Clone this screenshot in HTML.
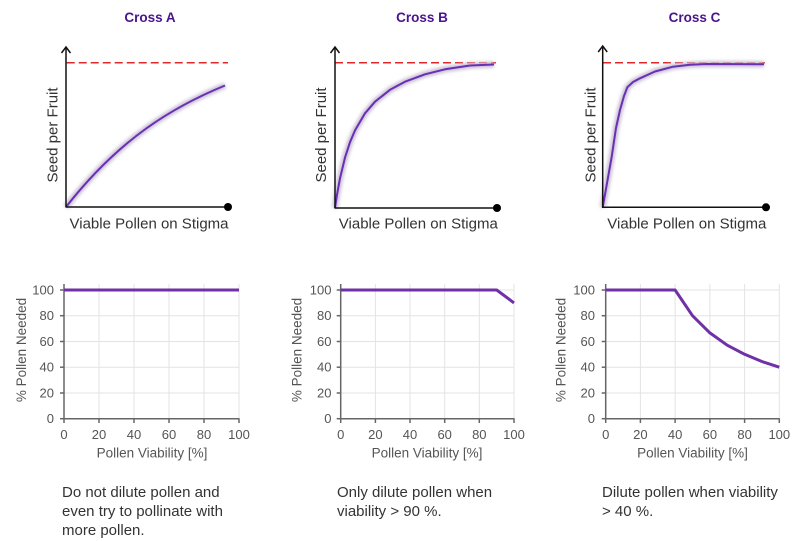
<!DOCTYPE html>
<html>
<head>
<meta charset="utf-8">
<style>
html,body{margin:0;padding:0;background:#fff;}
body{width:800px;height:541px;position:relative;overflow:hidden;font-family:"Liberation Sans",Arial,sans-serif;}
.note{position:absolute;font-size:15px;line-height:19px;color:#333;white-space:nowrap;}
</style>
</head>
<body>
<svg width="800" height="541" viewBox="0 0 800 541" xmlns="http://www.w3.org/2000/svg" style="position:absolute;left:0;top:0;font-family:'Liberation Sans',Arial,sans-serif;">
  <defs>
    <filter id="glow" x="-10%" y="-10%" width="120%" height="120%">
      <feGaussianBlur stdDeviation="1.5"/>
    </filter>
  </defs>

  <!-- Titles -->
  <g font-size="13.5" font-weight="bold" fill="#4a148c" text-anchor="middle">
    <text x="150" y="22">Cross A</text>
    <text x="422" y="22">Cross B</text>
    <text x="694.5" y="22">Cross C</text>
  </g>

  <!-- ===== Top chart A ===== -->
  <line x1="66.7" y1="62.7" x2="228" y2="62.7" stroke="#e02828" stroke-width="1.5" stroke-dasharray="8,4"/>
  <path d="M66,207 C119,139.2 172,107.3 225,85.5" fill="none" stroke="#c8c0d4" stroke-width="6" filter="url(#glow)"/>
  <path d="M66,207 C119,139.2 172,107.3 225,85.5" fill="none" stroke="#6a2fb4" stroke-width="2"/>
  <line x1="66" y1="47" x2="66" y2="207.5" stroke="#111" stroke-width="1.5"/>
  <polyline points="61.5,53 66,47 70.5,53" fill="none" stroke="#111" stroke-width="1.5"/>
  <line x1="66" y1="207" x2="228" y2="207" stroke="#111" stroke-width="1.5"/>
  <circle cx="228" cy="207" r="4" fill="#000"/>
  <text x="149" y="228.5" font-size="15" fill="#333" text-anchor="middle">Viable Pollen on Stigma</text>
  <text transform="translate(57.5,135) rotate(-90)" font-size="15" fill="#333" text-anchor="middle">Seed per Fruit</text>

  <!-- ===== Top chart B ===== -->
  <line x1="335" y1="62.7" x2="496" y2="62.7" stroke="#e02828" stroke-width="1.5" stroke-dasharray="8,4"/>
  <polyline points="335,208 337,194.7 340,178.3 345,157.6 350,142.2 355,130.4 365,113.3 375,101.7 390,89.8 405,81.7 425,74.3 445,69.3 470,65.5 494,64.5" fill="none" stroke="#c8c0d4" stroke-width="6" filter="url(#glow)"/>
  <polyline points="335,208 337,194.7 340,178.3 345,157.6 350,142.2 355,130.4 365,113.3 375,101.7 390,89.8 405,81.7 425,74.3 445,69.3 470,65.5 494,64.5" fill="none" stroke="#6a2fb4" stroke-width="2" stroke-linejoin="round"/>
  <line x1="335" y1="47" x2="335" y2="208.5" stroke="#111" stroke-width="1.5"/>
  <polyline points="330.5,53 335,47 339.5,53" fill="none" stroke="#111" stroke-width="1.5"/>
  <line x1="335" y1="208" x2="497" y2="208" stroke="#111" stroke-width="1.5"/>
  <circle cx="497" cy="208" r="4" fill="#000"/>
  <text x="418.3" y="228.5" font-size="15" fill="#333" text-anchor="middle">Viable Pollen on Stigma</text>
  <text transform="translate(326,135) rotate(-90)" font-size="15" fill="#333" text-anchor="middle">Seed per Fruit</text>

  <!-- ===== Top chart C ===== -->
  <line x1="603" y1="62.7" x2="765" y2="62.7" stroke="#e02828" stroke-width="1.5" stroke-dasharray="8,4"/>
  <polyline points="602.7,207.3 606,188.8 611.7,156.7 616,128 620,110 624,96 627.3,87.3 633,82 640,78.3 655,71.5 673,66.7 690,64.8 707,64 764,64.3" fill="none" stroke="#c8c0d4" stroke-width="6" filter="url(#glow)"/>
  <polyline points="602.7,207.3 606,188.8 611.7,156.7 616,128 620,110 624,96 627.3,87.3 633,82 640,78.3 655,71.5 673,66.7 690,64.8 707,64 764,64.3" fill="none" stroke="#6a2fb4" stroke-width="2" stroke-linejoin="round"/>
  <line x1="602.7" y1="46" x2="602.7" y2="208" stroke="#111" stroke-width="1.5"/>
  <polyline points="598.2,52 602.7,46 607.2,52" fill="none" stroke="#111" stroke-width="1.5"/>
  <line x1="602.7" y1="207.3" x2="766" y2="207.3" stroke="#111" stroke-width="1.5"/>
  <circle cx="766" cy="207.3" r="4" fill="#000"/>
  <text x="686.8" y="228.5" font-size="15" fill="#333" text-anchor="middle">Viable Pollen on Stigma</text>
  <text transform="translate(595.5,135) rotate(-90)" font-size="15" fill="#333" text-anchor="middle">Seed per Fruit</text>

  <!-- ===== Bottom chart A ===== -->
  <g stroke="#e3e3e3" stroke-width="1">
    <line x1="99" y1="284" x2="99" y2="418.7"/>
    <line x1="134" y1="284" x2="134" y2="418.7"/>
    <line x1="169" y1="284" x2="169" y2="418.7"/>
    <line x1="204" y1="284" x2="204" y2="418.7"/>
    <line x1="239" y1="284" x2="239" y2="418.7"/>
    <line x1="64" y1="393" x2="239" y2="393"/>
    <line x1="64" y1="367.2" x2="239" y2="367.2"/>
    <line x1="64" y1="341.5" x2="239" y2="341.5"/>
    <line x1="64" y1="315.7" x2="239" y2="315.7"/>
    <line x1="64" y1="290" x2="239" y2="290"/>
  </g>
  <g stroke="#666" stroke-width="1.5">
    <line x1="64" y1="284" x2="64" y2="419.5"/>
    <line x1="63.3" y1="418.7" x2="239.5" y2="418.7"/>
    <line x1="60" y1="290" x2="64" y2="290"/>
    <line x1="60" y1="315.7" x2="64" y2="315.7"/>
    <line x1="60" y1="341.5" x2="64" y2="341.5"/>
    <line x1="60" y1="367.2" x2="64" y2="367.2"/>
    <line x1="60" y1="393" x2="64" y2="393"/>
    <line x1="60" y1="418.7" x2="64" y2="418.7"/>
    <line x1="64" y1="418.7" x2="64" y2="423"/>
    <line x1="99" y1="418.7" x2="99" y2="423"/>
    <line x1="134" y1="418.7" x2="134" y2="423"/>
    <line x1="169" y1="418.7" x2="169" y2="423"/>
    <line x1="204" y1="418.7" x2="204" y2="423"/>
    <line x1="239" y1="418.7" x2="239" y2="423"/>
  </g>
  <polyline points="64,290 239,290" fill="none" stroke="#7030a8" stroke-width="3"/>
  <g font-size="13" fill="#555" text-anchor="end">
    <text x="54" y="294.5">100</text>
    <text x="54" y="320.2">80</text>
    <text x="54" y="346">60</text>
    <text x="54" y="371.7">40</text>
    <text x="54" y="397.5">20</text>
    <text x="54" y="423.2">0</text>
  </g>
  <g font-size="13" fill="#555" text-anchor="middle">
    <text x="64" y="439">0</text>
    <text x="99" y="439">20</text>
    <text x="134" y="439">40</text>
    <text x="169" y="439">60</text>
    <text x="204" y="439">80</text>
    <text x="239" y="439">100</text>
  </g>
  <text x="152" y="457.5" font-size="13.5" fill="#555" text-anchor="middle">Pollen Viability [%]</text>
  <text transform="translate(26,350) rotate(-90)" font-size="13.5" fill="#555" text-anchor="middle">% Pollen Needed</text>

  <!-- ===== Bottom chart B ===== -->
  <g stroke="#e3e3e3" stroke-width="1">
    <line x1="375.4" y1="284" x2="375.4" y2="418.7"/>
    <line x1="410" y1="284" x2="410" y2="418.7"/>
    <line x1="444.7" y1="284" x2="444.7" y2="418.7"/>
    <line x1="479.3" y1="284" x2="479.3" y2="418.7"/>
    <line x1="514" y1="284" x2="514" y2="418.7"/>
    <line x1="340.7" y1="393" x2="514" y2="393"/>
    <line x1="340.7" y1="367.2" x2="514" y2="367.2"/>
    <line x1="340.7" y1="341.5" x2="514" y2="341.5"/>
    <line x1="340.7" y1="315.7" x2="514" y2="315.7"/>
    <line x1="340.7" y1="290" x2="514" y2="290"/>
  </g>
  <g stroke="#666" stroke-width="1.5">
    <line x1="340.7" y1="284" x2="340.7" y2="419.5"/>
    <line x1="340" y1="418.7" x2="514.5" y2="418.7"/>
    <line x1="336.7" y1="290" x2="340.7" y2="290"/>
    <line x1="336.7" y1="315.7" x2="340.7" y2="315.7"/>
    <line x1="336.7" y1="341.5" x2="340.7" y2="341.5"/>
    <line x1="336.7" y1="367.2" x2="340.7" y2="367.2"/>
    <line x1="336.7" y1="393" x2="340.7" y2="393"/>
    <line x1="336.7" y1="418.7" x2="340.7" y2="418.7"/>
    <line x1="340.7" y1="418.7" x2="340.7" y2="423"/>
    <line x1="375.4" y1="418.7" x2="375.4" y2="423"/>
    <line x1="410" y1="418.7" x2="410" y2="423"/>
    <line x1="444.7" y1="418.7" x2="444.7" y2="423"/>
    <line x1="479.3" y1="418.7" x2="479.3" y2="423"/>
    <line x1="514" y1="418.7" x2="514" y2="423"/>
  </g>
  <polyline points="340.7,290 496.7,290 514,302.9" fill="none" stroke="#7030a8" stroke-width="3" stroke-linejoin="round"/>
  <g font-size="13" fill="#555" text-anchor="end">
    <text x="331.5" y="294.5">100</text>
    <text x="331.5" y="320.2">80</text>
    <text x="331.5" y="346">60</text>
    <text x="331.5" y="371.7">40</text>
    <text x="331.5" y="397.5">20</text>
    <text x="331.5" y="423.2">0</text>
  </g>
  <g font-size="13" fill="#555" text-anchor="middle">
    <text x="340.7" y="439">0</text>
    <text x="375.4" y="439">20</text>
    <text x="410" y="439">40</text>
    <text x="444.7" y="439">60</text>
    <text x="479.3" y="439">80</text>
    <text x="514" y="439">100</text>
  </g>
  <text x="427" y="457.5" font-size="13.5" fill="#555" text-anchor="middle">Pollen Viability [%]</text>
  <text transform="translate(301.5,350) rotate(-90)" font-size="13.5" fill="#555" text-anchor="middle">% Pollen Needed</text>

  <!-- ===== Bottom chart C ===== -->
  <g stroke="#e3e3e3" stroke-width="1">
    <line x1="640.4" y1="284" x2="640.4" y2="418.7"/>
    <line x1="675.1" y1="284" x2="675.1" y2="418.7"/>
    <line x1="709.9" y1="284" x2="709.9" y2="418.7"/>
    <line x1="744.6" y1="284" x2="744.6" y2="418.7"/>
    <line x1="779.3" y1="284" x2="779.3" y2="418.7"/>
    <line x1="605.7" y1="393" x2="779.3" y2="393"/>
    <line x1="605.7" y1="367.2" x2="779.3" y2="367.2"/>
    <line x1="605.7" y1="341.5" x2="779.3" y2="341.5"/>
    <line x1="605.7" y1="315.7" x2="779.3" y2="315.7"/>
    <line x1="605.7" y1="290" x2="779.3" y2="290"/>
  </g>
  <g stroke="#666" stroke-width="1.5">
    <line x1="605.7" y1="284" x2="605.7" y2="419.5"/>
    <line x1="605" y1="418.7" x2="779.8" y2="418.7"/>
    <line x1="601.7" y1="290" x2="605.7" y2="290"/>
    <line x1="601.7" y1="315.7" x2="605.7" y2="315.7"/>
    <line x1="601.7" y1="341.5" x2="605.7" y2="341.5"/>
    <line x1="601.7" y1="367.2" x2="605.7" y2="367.2"/>
    <line x1="601.7" y1="393" x2="605.7" y2="393"/>
    <line x1="601.7" y1="418.7" x2="605.7" y2="418.7"/>
    <line x1="605.7" y1="418.7" x2="605.7" y2="423"/>
    <line x1="640.4" y1="418.7" x2="640.4" y2="423"/>
    <line x1="675.1" y1="418.7" x2="675.1" y2="423"/>
    <line x1="709.9" y1="418.7" x2="709.9" y2="423"/>
    <line x1="744.6" y1="418.7" x2="744.6" y2="423"/>
    <line x1="779.3" y1="418.7" x2="779.3" y2="423"/>
  </g>
  <polyline points="605.7,290 675.1,290 692.5,315.7 709.9,332.9 727.2,345.2 744.6,354.3 761.9,361.5 779.3,367.2" fill="none" stroke="#7030a8" stroke-width="3" stroke-linejoin="round"/>
  <g font-size="13" fill="#555" text-anchor="end">
    <text x="595" y="294.5">100</text>
    <text x="595" y="320.2">80</text>
    <text x="595" y="346">60</text>
    <text x="595" y="371.7">40</text>
    <text x="595" y="397.5">20</text>
    <text x="595" y="423.2">0</text>
  </g>
  <g font-size="13" fill="#555" text-anchor="middle">
    <text x="605.7" y="439">0</text>
    <text x="640.4" y="439">20</text>
    <text x="675.1" y="439">40</text>
    <text x="709.9" y="439">60</text>
    <text x="744.6" y="439">80</text>
    <text x="779.3" y="439">100</text>
  </g>
  <text x="692.5" y="457.5" font-size="13.5" fill="#555" text-anchor="middle">Pollen Viability [%]</text>
  <text transform="translate(565.5,350) rotate(-90)" font-size="13.5" fill="#555" text-anchor="middle">% Pollen Needed</text>
</svg>

<div class="note" style="left:62px;top:483px;">Do not dilute pollen and<br>even try to pollinate with<br>more pollen.</div>
<div class="note" style="left:337px;top:483px;">Only dilute pollen when<br>viability &gt; 90 %.</div>
<div class="note" style="left:602px;top:483px;">Dilute pollen when viability<br>&gt; 40 %.</div>
</body>
</html>
